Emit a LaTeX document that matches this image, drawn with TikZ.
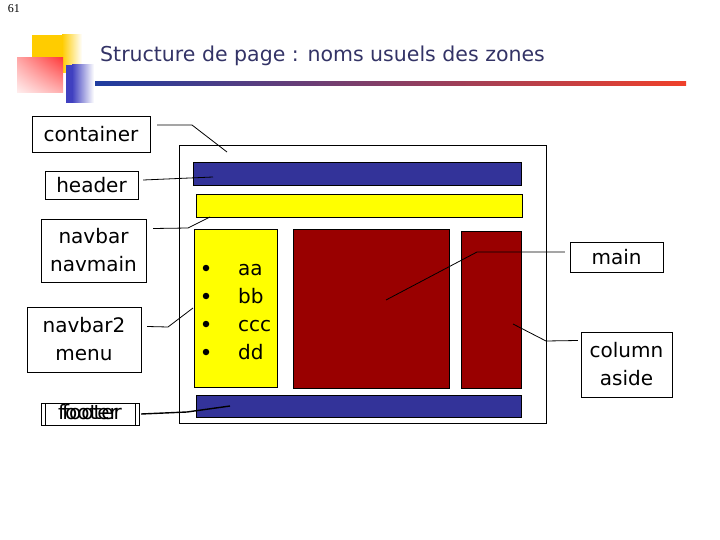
\documentclass[tikz,border=0pt]{standalone}
\usepackage{fontspec}
\setmainfont{DejaVu Sans}
\newfontfamily\numfont{Liberation Serif}
\usepackage{tikz}
\usetikzlibrary{shadings}
\definecolor{zoneblue}{HTML}{333399}
\definecolor{zoneyellow}{HTML}{FFFF00}
\definecolor{zonered}{HTML}{990000}
\definecolor{titleblue}{HTML}{333366}
\definecolor{decogold}{HTML}{FFCC00}
\definecolor{decored}{HTML}{FF3B3B}
\definecolor{decoblue}{HTML}{4040C0}
\definecolor{lineblue}{HTML}{1E3CA0}
\definecolor{linepurple}{HTML}{8A3CA8}
\definecolor{linered}{HTML}{F0402A}
\tikzset{
    namebox/.style={draw, thin, fill=white, inner sep=0pt, align=center,
        font=\fontsize{20}{28}\selectfont},
    zone/.style={draw, thin, inner sep=0pt},
    dot/.style={circle, fill=black, inner sep=0pt, minimum size=6.5pt},
    item/.style={anchor=base west, inner sep=0pt, font=\fontsize{20}{28}\selectfont},
    link/.style={draw, line width=0.8pt}
}

\begin{document}
\begin{tikzpicture}[x=1pt, y=-1pt]
    \useasboundingbox (0,0) rectangle (720,540);
    %slide number and title
    \node[font=\numfont\fontsize{12}{13}\selectfont] (num) at (14,9) {61};
    \fill[decogold] (32,35) rectangle (62,73);
    \shade[left color=decogold, right color=white] (62,35) rectangle (82,73);
    \shade[upper right=decored, upper left=decored!45, lower right=decored!40, lower left=decored!8] (17,58) rectangle (63,93);
    \fill[decoblue] (66,65) rectangle (72,103);
    \shade[left color=decoblue, right color=white] (72,65) rectangle (94,103);
    \node[anchor=base west, inner sep=0pt, text=titleblue,
        font=\fontsize{20.5}{24}\selectfont] (title) at (100,62)
        {Structure de page : noms usuels des zones};
    \shade[left color=lineblue, middle color=linepurple, right color=linered]
        (95,82) rectangle (686,86);
    %zones
    \node[zone, fill=white, minimum width=367, minimum height=278] (container) at (362.5,284) {};
    \node[zone, fill=zoneblue, minimum width=328, minimum height=23] (header) at (357,173.5) {};
    \node[zone, fill=zoneyellow, minimum width=326, minimum height=23] (navbar) at (359,205.5) {};
    \node[zone, fill=zoneyellow, minimum width=83, minimum height=158] (menu) at (235.5,308) {};
    \node[zone, fill=zonered, minimum width=156, minimum height=159] (main) at (371,308.5) {};
    \node[zone, fill=zonered, minimum width=60, minimum height=157] (aside) at (491,309.5) {};
    \node[zone, fill=zoneblue, minimum width=325, minimum height=22] (footer) at (358.5,406) {};
    %menu items
    \foreach \t [count=\i] in {aa,bb,ccc,dd} {
        \node[dot] (dot\i) at (206,240+28*\i) {};
        \node[item] (item\i) at (238,247+28*\i) {\t};
    }
    %labels
    \node[namebox, minimum width=118, minimum height=36] (lcontainer) at (91,134) {container};
    \node[namebox, minimum width=93, minimum height=28] (lheader) at (91.5,185) {header};
    \node[namebox, minimum width=105, minimum height=63] (lnavbar) at (93.5,250.5) {navbar\\navmain};
    \node[namebox, minimum width=114, minimum height=65] (lnavbar2) at (84,339.5) {navbar2\\menu};
    \node[namebox, minimum width=94, minimum height=22, text height=13, text depth=3] (lfooter) at (88,414) {footer};
    \node[namebox, fill=none, minimum width=94, minimum height=22, text height=13, text depth=3] (lfooterb) at (92,414) {footer};
    \node[namebox, minimum width=93, minimum height=30] (lmain) at (616.5,257) {main};
    \node[namebox, minimum width=91, minimum height=65] (lcolumn) at (626.5,364.5) {column\\aside};
    %pointers
    \coordinate (pcontainer) at (227,152);
    \coordinate (pheader) at (213,177);
    \coordinate (pnavbar) at (210,217);
    \coordinate (pmenu) at (193,308);
    \coordinate (pfooter) at (230,406);
    \coordinate (pmain) at (386,300);
    \coordinate (paside) at (513,324);
    %connectors
    \draw[link] ([xshift=7pt,yshift=9pt]lcontainer.east) -- (192,125) -- (pcontainer);
    \draw[link] ([xshift=5pt,yshift=5pt]lheader.east) -- (pheader);
    \draw[link] ([xshift=7pt,yshift=22pt]lnavbar.east) -- (188,228) -- (pnavbar);
    \draw[link] ([xshift=6pt,yshift=13pt]lnavbar2.east) -- (168,327) -- (pmenu);
    \draw[link, line width=1.4pt] ([xshift=2pt]lfooterb.east) -- (187,412) -- (pfooter);
    \draw[link] ([xshift=-5pt,yshift=5pt]lmain.west) -- (477,252) -- (pmain);
    \draw[link] ([xshift=-3pt,yshift=24pt]lcolumn.west) -- (546,341) -- (paside);
\end{tikzpicture}
\end{document}
